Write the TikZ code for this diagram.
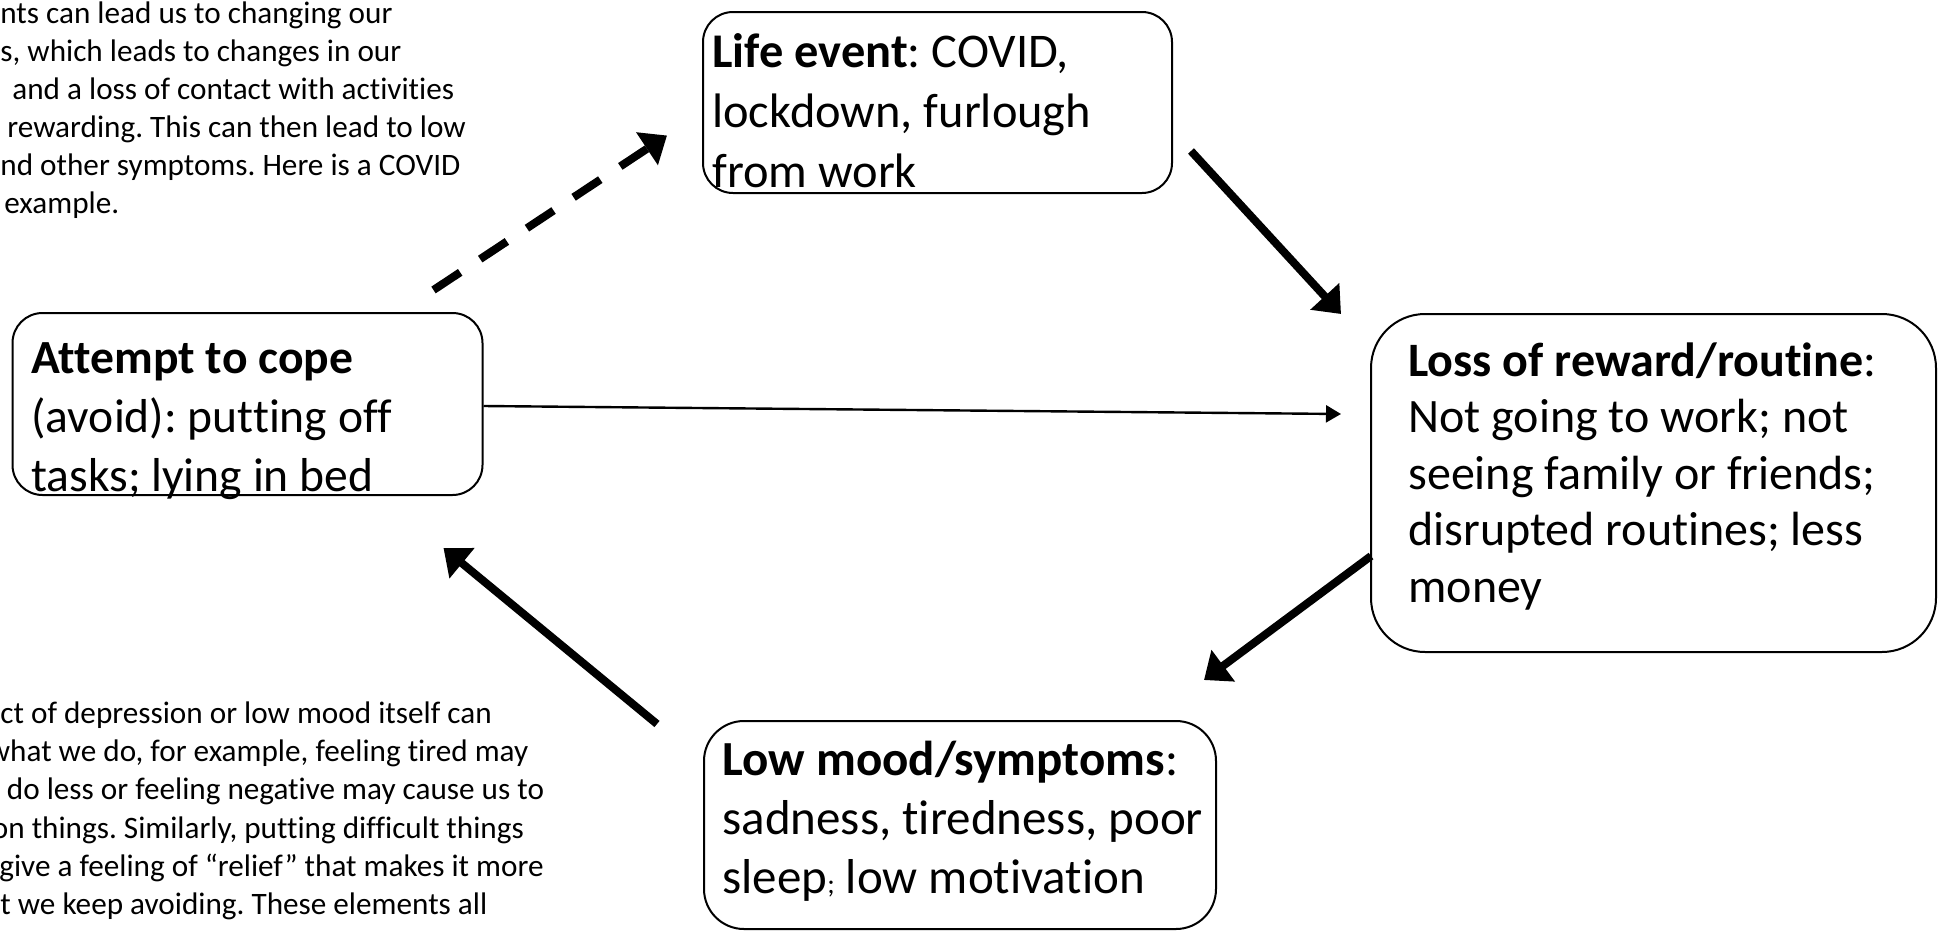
\documentclass[tikz,border=0pt]{standalone}
\usepackage{fontspec}
\setmainfont{Carlito}[Ligatures={NoCommon,NoContextual}]
\frenchspacing
\usetikzlibrary{arrows.meta,calc}
\begin{document}
\begin{tikzpicture}[x=0.5pt,y=-0.5pt,
  cbox/.style={draw=black, line width=1pt, inner sep=0pt, fill=none},
  boxtext/.style={anchor=base west, inner sep=0pt, align=left},
  note/.style={anchor=base west, inner sep=0pt, font=\fontsize{15.6pt}{18.8pt}\selectfont},
  thickarrow/.style={line width=4pt, -{Triangle[length=12pt,width=19pt]}},
  dasharrow/.style={line width=4pt, dash pattern=on 16pt off 12pt, -{Triangle[length=12pt,width=19pt]}},
  thinarrow/.style={line width=1.2pt, -{Triangle[length=7.5pt,width=8.5pt]}}]
\useasboundingbox (0,0) rectangle (1939,932);
\begin{scope}
\clip (0,0) rectangle (1939,932);
% boxes
\node[cbox, rounded corners=15pt, minimum width=234.5pt, minimum height=90.5pt] (life) at (937.5,102.5) {};
\node[cbox, rounded corners=15pt, minimum width=235pt, minimum height=91pt] (att) at (247.5,404) {};
\node[cbox, rounded corners=27pt, minimum width=282.5pt, minimum height=169pt] (loss) at (1653.5,483) {};
\node[cbox, rounded corners=20pt, minimum width=256pt, minimum height=104pt] (low) at (960,825) {};
% box texts
\node[boxtext, font=\fontsize{24.2pt}{30pt}\selectfont] (lifet) at (712,67) {\parbox[t]{300pt}{\raggedright\textbf{Life event}: COVID,\\lockdown, furlough\\from work}};
\node[boxtext, font=\fontsize{23.8pt}{29.5pt}\selectfont] (attt) at (31,373) {\parbox[t]{300pt}{\raggedright\textbf{Attempt to cope}\\(avoid): putting off\\tasks; lying in bed}};
\node[boxtext, font=\fontsize{24pt}{28.25pt}\selectfont] (losst) at (1408,376) {\parbox[t]{300pt}{\raggedright\textbf{Loss of reward/routine}:\\Not going to work; not\\seeing family or friends;\\disrupted routines; less\\money}};
\node[boxtext, font=\fontsize{24.5pt}{29.5pt}\selectfont] (lowt) at (722,775) {\parbox[t]{300pt}{\raggedright\textbf{Low mood/symptoms}:\\sadness, tiredness, poor\\sleep{\fontsize{14pt}{14pt}\selectfont;} low motivation}};
% top note
\node[note] (tn1) at (0,23.3) {nts can lead us to changing our};
\node[note] (tn2) at (0,61.3) {s, which leads to changes in our};
\node[note] (tn3) at (12,99.3) {and a loss of contact with activities};
\node[note] (tn4) at (7,137.3) {rewarding. This can then lead to low};
\node[note] (tn5) at (0,175.3) {nd other symptoms. Here is a COVID};
\node[note] (tn6) at (4,213.3) {example.};
% bottom note
\node[note] (bn1) at (0,723.3) {ct of depression or low mood itself can};
\node[note] (bn2) at (-12.5,761.6) {what we do, for example, feeling tired may};
\node[note] (bn3) at (6.5,799.9) {do less or feeling negative may cause us to};
\node[note] (bn4) at (-8.5,838.2) {on things. Similarly, putting difficult things};
\node[note] (bn5) at (-1,876.5) {give a feeling of “relief” that makes it more};
\node[note] (bn6) at (0,914.8) {t we keep avoiding. These elements all};
\end{scope}
% connectors
\draw[dasharrow] ($(att.north east)+(-50,-22)$) -- ($(life.west)+(-35,33)$);
\draw[thickarrow] ($(life.south east)+(18,-43)$) -- ($(loss.north west)+(-29,1)$);
\draw[thinarrow] ($(att.east)+(0,2)$) -- ($(loss.west)+(-29,-69)$);
\draw[thickarrow] ($(loss.west)+(1,73)$) -- ($(low.north east)+(-13,-40)$);
\draw[thickarrow] ($(low.north west)+(-46,4)$) -- ($(att.south east)+(-40,52)$);
\end{tikzpicture}
\end{document}
